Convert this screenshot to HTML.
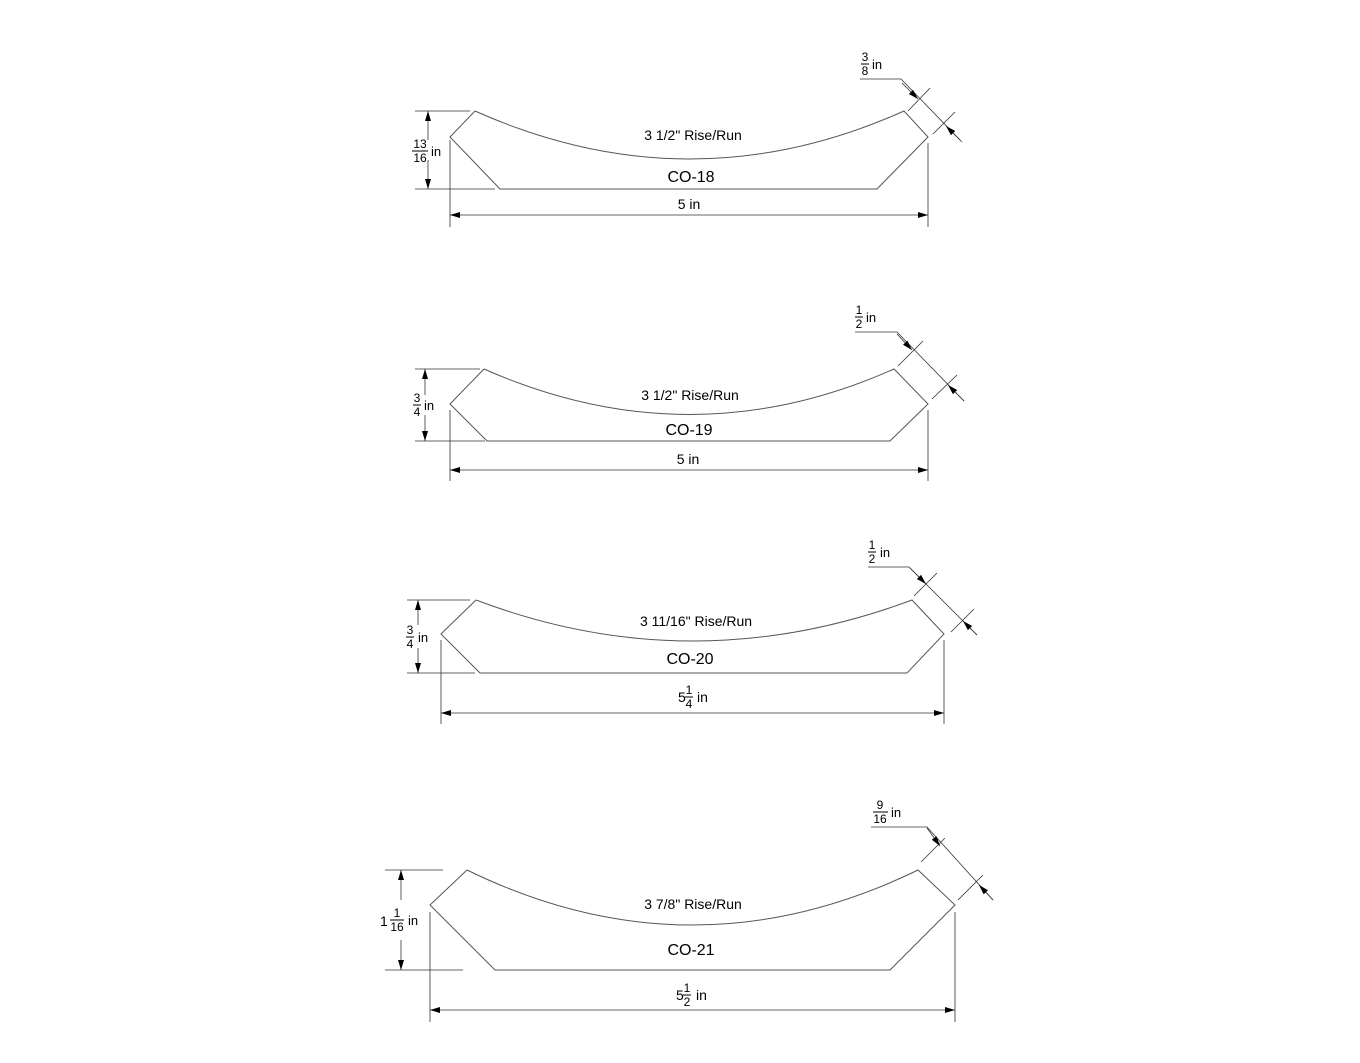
<!DOCTYPE html>
<html><head><meta charset="utf-8"><style>
html,body{margin:0;padding:0;background:#fff;}
svg{display:block;}
text{font-family:"Liberation Sans",sans-serif;fill:#000;}
.s{stroke:#555;stroke-width:1;fill:none;}
.d{stroke:#333;stroke-width:0.8;fill:none;}
.l{font-size:14px;}
.c{font-size:16px;}
.f{font-size:12px;}
.i{font-size:13px;}
</style></head><body>
<svg width="1360" height="1063" viewBox="0 0 1360 1063" xmlns="http://www.w3.org/2000/svg">
<defs>
<marker id="a" viewBox="0 0 10 6" refX="10" refY="3" markerWidth="10" markerHeight="6" orient="auto" markerUnits="userSpaceOnUse"><path d="M0,0 L10,3 L0,6z" fill="#000"/></marker>
</defs>

<!-- CO-18 -->
<path class="s" d="M475,111 L450,137 L500,189 L877,189 L928,137 L904,111 Q690,207 475,111"/>
<path class="d" d="M415,111H470 M415,189H495 M450,140V227 M928,143V227"/>
<path class="d" d="M428,140V111" marker-end="url(#a)"/><path class="d" d="M428,160V189" marker-end="url(#a)"/>
<path class="d" d="M689,215H450" marker-end="url(#a)"/><path class="d" d="M689,215H928" marker-end="url(#a)"/>
<path class="d" d="M860,79H901L960,140 M908,111L930,88 M933,134L955,112"/>
<path class="d" d="M902,83L918,99" marker-end="url(#a)"/><path class="d" d="M962,142L946,126" marker-end="url(#a)"/>
<text class="l" x="693" y="140" text-anchor="middle">3 1/2" Rise/Run</text>
<text class="c" x="691" y="182" text-anchor="middle">CO-18</text>
<text class="l" x="689" y="209" text-anchor="middle">5 in</text>
<text class="f" x="420" y="148" text-anchor="middle">13</text><path d="M412,151H428" stroke="#000"/><text class="f" x="420" y="162" text-anchor="middle">16</text><text class="i" x="431" y="156">in</text>
<text class="f" x="865" y="61" text-anchor="middle">3</text><path d="M861,64H869" stroke="#000"/><text class="f" x="865" y="75" text-anchor="middle">8</text><text class="i" x="872" y="69">in</text>

<!-- CO-19 -->
<path class="s" d="M484,369 L450,404 L487,441 L890,441 L928,404 L894,369 Q690,460 484,369"/>
<path class="d" d="M415,369H480 M415,441H485 M450,410V481 M928,410V481"/>
<path class="d" d="M425,395V369" marker-end="url(#a)"/><path class="d" d="M425,415V441" marker-end="url(#a)"/>
<path class="d" d="M689,470H450" marker-end="url(#a)"/><path class="d" d="M689,470H928" marker-end="url(#a)"/>
<path class="d" d="M855,332H897L964,401 M898,366L923,341 M932,399L957,375"/>
<path class="d" d="M897,334L912,350" marker-end="url(#a)"/><path class="d" d="M964,401L948,385" marker-end="url(#a)"/>
<text class="l" x="690" y="400" text-anchor="middle">3 1/2" Rise/Run</text>
<text class="c" x="689" y="435" text-anchor="middle">CO-19</text>
<text class="l" x="688" y="464" text-anchor="middle">5 in</text>
<text class="f" x="417" y="402" text-anchor="middle">3</text><path d="M413,405H421" stroke="#000"/><text class="f" x="417" y="416" text-anchor="middle">4</text><text class="i" x="424" y="410">in</text>
<text class="f" x="859" y="314" text-anchor="middle">1</text><path d="M855,317H863" stroke="#000"/><text class="f" x="859" y="328" text-anchor="middle">2</text><text class="i" x="866" y="322">in</text>

<!-- CO-20 -->
<path class="s" d="M476,600 L441,634 L480,673 L907,673 L944,634 L912,600 Q692,682 476,600"/>
<path class="d" d="M407,600H470 M407,673H475 M441,640V724 M944,640V724"/>
<path class="d" d="M418,625V600" marker-end="url(#a)"/><path class="d" d="M418,648V673" marker-end="url(#a)"/>
<path class="d" d="M692,713H441" marker-end="url(#a)"/><path class="d" d="M692,713H944" marker-end="url(#a)"/>
<path class="d" d="M868,567H909L977,635 M914,596L937,573 M951,632L974,609"/>
<path class="d" d="M910,568L926,584" marker-end="url(#a)"/><path class="d" d="M977,635L963,621" marker-end="url(#a)"/>
<text class="l" x="696" y="626" text-anchor="middle">3 11/16" Rise/Run</text>
<text class="c" x="690" y="664" text-anchor="middle">CO-20</text>
<text class="l" x="678" y="702">5</text><text class="f" x="689" y="694" text-anchor="middle">1</text><path d="M685,697H693" stroke="#000"/><text class="f" x="689" y="708" text-anchor="middle">4</text><text class="l" x="697" y="702">in</text>
<text class="f" x="410" y="634" text-anchor="middle">3</text><path d="M406,637H414" stroke="#000"/><text class="f" x="410" y="648" text-anchor="middle">4</text><text class="i" x="418" y="642">in</text>
<text class="f" x="872" y="549" text-anchor="middle">1</text><path d="M868,552H876" stroke="#000"/><text class="f" x="872" y="563" text-anchor="middle">2</text><text class="i" x="880" y="557">in</text>

<!-- CO-21 -->
<path class="s" d="M467,870 L430,905 L495,970 L890,970 L955,905 L918,870 Q692,980 467,870"/>
<path class="d" d="M385,870H443 M385,970H463 M430,912V1022 M955,912V1022"/>
<path class="d" d="M401,900V870" marker-end="url(#a)"/><path class="d" d="M401,940V970" marker-end="url(#a)"/>
<path class="d" d="M690,1010H430" marker-end="url(#a)"/><path class="d" d="M690,1010H955" marker-end="url(#a)"/>
<path class="d" d="M871,827H927L993,900 M921,862L945,838 M958,900L983,875"/>
<path class="d" d="M927,828L940,846" marker-end="url(#a)"/><path class="d" d="M993,900L979,885" marker-end="url(#a)"/>
<text class="l" x="693" y="909" text-anchor="middle">3 7/8" Rise/Run</text>
<text class="c" x="691" y="955" text-anchor="middle">CO-21</text>
<text class="l" x="676" y="1000">5</text><text class="f" x="687" y="992" text-anchor="middle">1</text><path d="M683,995H691" stroke="#000"/><text class="f" x="687" y="1006" text-anchor="middle">2</text><text class="l" x="696" y="1000">in</text>
<text class="l" x="380" y="926">1</text><text class="f" x="397" y="917" text-anchor="middle">1</text><path d="M390,920H404" stroke="#000"/><text class="f" x="397" y="931" text-anchor="middle">16</text><text class="i" x="408" y="925">in</text>
<text class="f" x="880" y="809" text-anchor="middle">9</text><path d="M873,812H888" stroke="#000"/><text class="f" x="880" y="823" text-anchor="middle">16</text><text class="i" x="891" y="817">in</text>
</svg>
</body></html>
